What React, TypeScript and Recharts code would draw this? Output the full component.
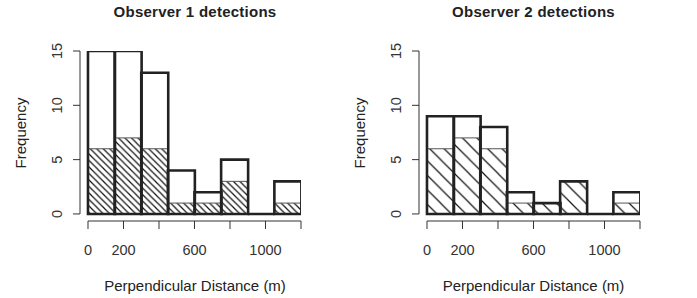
import React from 'react';
import { BarChart, Bar, XAxis, YAxis, ReferenceLine } from 'recharts';

// ─── Data ─────────────────────────────────────────────────────────────────────

const binMids = [75, 225, 375, 525, 675, 825, 975, 1125];
const obs1Total = [15, 15, 13, 4, 2, 5, 0, 3];
const obs1Hatched = [6, 7, 6, 1, 1, 3, 0, 1];
const obs2Total = [9, 9, 8, 2, 1, 3, 0, 2];
const obs2Hatched = [6, 7, 6, 1, 1, 3, 0, 1];

const xTicks = [0, 200, 400, 600, 800, 1000, 1200];
const xTickLabels = [0, 200, 600, 1000];
const yTicks = [0, 5, 10, 15];

const FONT = '"Liberation Sans", Arial, sans-serif';
const INK = '#222';

// ─── Axis ticks ───────────────────────────────────────────────────────────────

function XTick(props: any) {
  const { x, y, payload } = props;
  if (!xTickLabels.includes(payload.value)) return null;
  return (
    <text x={x} y={y + 24} textAnchor="middle" fontSize={14.5} fill="#333" fontFamily={FONT}>
      {payload.value}
    </text>
  );
}

function YTick(props: any) {
  const { x, y, payload } = props;
  const tx = x - 9;
  return (
    <text x={tx} y={y} transform={`rotate(-90 ${tx} ${y})`} textAnchor="middle"
      fontSize={14.5} fill="#333" fontFamily={FONT}>
      {payload.value}
    </text>
  );
}

function OutlineBar(props: any) {
  const { x, y, width, height } = props;
  if (x == null || y == null) return null;
  const d = `M${x},${y + height} L${x},${y} L${x + width},${y} L${x + width},${y + height} Z`;
  return <path d={d} fill="none" stroke={INK} strokeWidth={2.6} strokeLinejoin="miter" />;
}

// ─── Histogram panel ──────────────────────────────────────────────────────────

function Histogram({ left, title, total, hatched, patternId, spacing }: {
  left: number; title: string; total: number[]; hatched: number[]; patternId: string; spacing: number;
}) {
  const data = binMids.map((mid, i) => ({ mid, total: total[i], hatched: hatched[i] }));
  const w = spacing;
  return (
    <div style={{ position: 'absolute', left, top: 0, width: 348, height: 298, fontFamily: FONT }}>
      <div style={{
        position: 'absolute', left: 95, width: 200, top: 3, textAlign: 'center',
        fontWeight: 'bold', fontSize: 15, lineHeight: '18px', color: INK, letterSpacing: 0.25,
      }}>{title}</div>
      <div style={{
        position: 'absolute', left: 45, width: 300, top: 277, textAlign: 'center',
        fontSize: 15, lineHeight: '18px', color: INK,
      }}>Perpendicular Distance (m)</div>
      <div style={{
        position: 'absolute', left: 21 - 50, width: 100, top: 133 - 9, textAlign: 'center',
        fontSize: 15, lineHeight: '18px', color: INK, transform: 'rotate(-90deg)',
      }}>Frequency</div>
      <div style={{ position: 'absolute', left: 0, top: 0 }}>
        <BarChart width={348} height={298} data={data}
          margin={{ top: 51, right: 47, bottom: 0, left: 0 }}
          barCategoryGap={0} barGap={0}>
          <defs>
            <pattern id={patternId} patternUnits="userSpaceOnUse" width={w} height={w}>
              <path d={`M0,0 L${w},${w} M-1,${w - 1} L1,${w + 1} M${w - 1},-1 L${w + 1},1`}
                stroke="#111" strokeWidth={1.2} />
            </pattern>
          </defs>
          <XAxis xAxisId="dist" type="number" dataKey="mid" domain={[-45, 1200]} ticks={xTicks}
            interval={0} allowDataOverflow axisLine={false} tickSize={8}
            tickLine={{ stroke: '#333' }} tick={<XTick />} height={77} />
          <XAxis xAxisId="hat" type="number" dataKey="mid" domain={[-45, 1200]} allowDataOverflow hide />
          <YAxis type="number" domain={[-0.65, 15]} ticks={yTicks} interval={0} allowDataOverflow
            width={80} axisLine={false} tickSize={7} tickLine={{ stroke: '#333' }} tick={<YTick />} />
          <ReferenceLine xAxisId="dist" ifOverflow="visible"
            segment={[{ x: 0, y: -0.65 }, { x: 1200, y: -0.65 }]} stroke="#333" strokeWidth={1} />
          <ReferenceLine xAxisId="dist" ifOverflow="visible"
            segment={[{ x: -45, y: 0 }, { x: -45, y: 15 }]} stroke="#333" strokeWidth={1} />
          <Bar xAxisId="hat" dataKey="hatched" fill={`url(#${patternId})`} stroke="#555"
            strokeWidth={1} isAnimationActive={false} />
          <Bar xAxisId="dist" dataKey="total" shape={OutlineBar} isAnimationActive={false} />
        </BarChart>
      </div>
    </div>
  );
}

export default function App() {
  return (
    <div style={{ position: 'absolute', left: 0, top: 0, width: 697, height: 298, background: '#fff' }}>
      <Histogram left={0} title="Observer 1 detections" total={obs1Total} hatched={obs1Hatched}
        patternId="hatch1" spacing={6.5} />
      <Histogram left={338.5} title="Observer 2 detections" total={obs2Total} hatched={obs2Hatched}
        patternId="hatch2" spacing={14.5} />
    </div>
  );
}
